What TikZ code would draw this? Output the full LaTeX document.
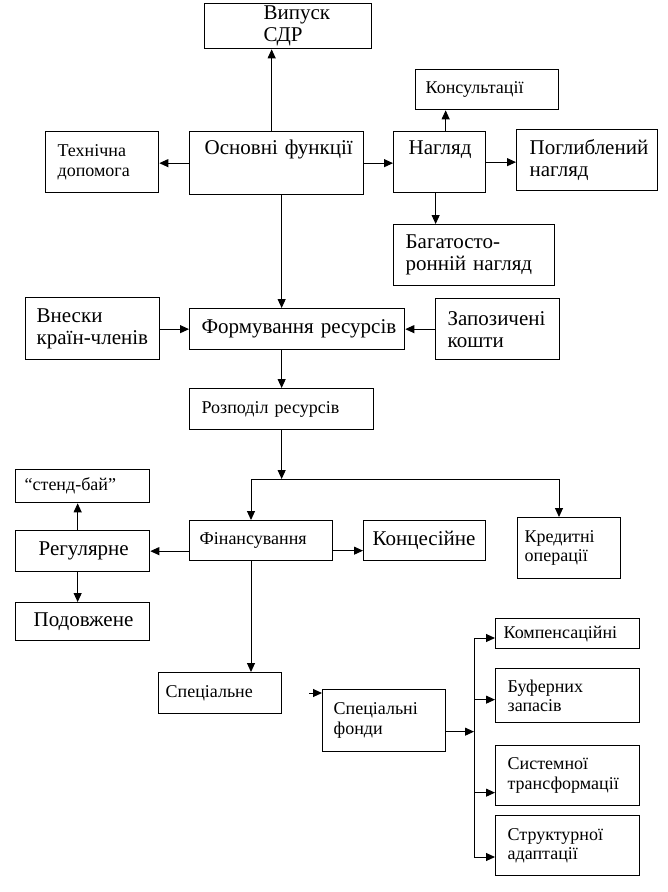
\documentclass[tikz,border=0pt]{standalone}
\usepackage{fontspec}
\setmainfont{Liberation Serif}
\usepackage{tikz}
\usetikzlibrary{arrows.meta}

\begin{document}
\begin{tikzpicture}[x=1pt, y=-1pt, >={Triangle[length=9pt,width=8pt]},
  box/.style={rectangle, draw=black, line width=1.3pt, anchor=north west, align=left, inner ysep=0pt},
  big/.style={font=\fontsize{21}{22}\selectfont},
  small/.style={font=\fontsize{18}{19.5}\selectfont},
  link/.style={line width=1pt}]
\useasboundingbox (0,0) rectangle (667,892);
\node (vyp) [box, big, minimum width=167pt, minimum height=45pt, inner xsep=59pt, text width=49pt] at (204,3) {Випуск\\СДР};
\node (kons) [box, small, minimum width=143pt, minimum height=40pt, inner xsep=10pt, text width=123pt] at (415,69) {Консультації};
\node (tech) [box, small, minimum width=113pt, minimum height=61pt, inner xsep=12pt, text width=89pt] at (45,131) {Технічна\\допомога};
\node (osn) [box, big, minimum width=174pt, minimum height=63pt, inner xsep=15pt, text width=144pt, text height=23pt, text depth=40pt] at (189,131) {Основні~функції};
\node (nag) [box, big, minimum width=92pt, minimum height=61pt, inner xsep=15pt, text width=62pt, text height=23pt, text depth=38pt] at (393,131) {Нагляд};
\node (pogl) [box, big, minimum width=141pt, minimum height=61pt, inner xsep=13pt, text width=115pt] at (516,129) {Поглиблений\\нагляд};
\node (bag) [box, big, minimum width=161pt, minimum height=61pt, inner xsep=12pt, text width=137pt] at (393,224) {Багатосто-\\ронній~нагляд};
\node (vnes) [box, big, minimum width=134pt, minimum height=62pt, inner xsep=11pt, text width=112pt] at (25,297) {Внески\\країн-членів};
\node (form) [box, big, minimum width=215pt, minimum height=41pt, inner xsep=12pt, text width=191pt] at (189,308) {Формування~ресурсів};
\node (zap) [box, big, minimum width=124pt, minimum height=61pt, inner xsep=12pt, text width=100pt] at (435,298) {Запозичені\\кошти};
\node (rozp) [box, small, minimum width=184pt, minimum height=41pt, inner xsep=12pt, text width=160pt] at (189,388) {Розподіл~ресурсів};
\node (stend) [box, small, minimum width=134pt, minimum height=33pt, inner xsep=9pt, text width=116pt] at (15,469) {“стенд-бай”};
\node (reg) [box, big, minimum width=134pt, minimum height=41pt, inner xsep=23pt, text width=88pt] at (15,530) {Регулярне};
\node (podo) [box, big, minimum width=134pt, minimum height=38pt, inner xsep=18pt, text width=98pt] at (15,602) {Подовжене};
\node (fin) [box, small, minimum width=143pt, minimum height=40pt, inner xsep=10pt, text width=123pt] at (189,520) {Фінансування};
\node (konc) [box, big, minimum width=122pt, minimum height=40pt, inner xsep=9pt, text width=104pt] at (363,520) {Концесійне};
\node (kred) [box, small, minimum width=103pt, minimum height=61pt, inner xsep=7pt, text width=89pt] at (517,517) {Кредитні\\операції};
\node (spec) [box, small, minimum width=123pt, minimum height=41pt, inner xsep=7pt, text width=109pt] at (158,672) {Спеціальне};
\node (specf) [box, small, minimum width=123pt, minimum height=62pt, inner xsep=11pt, text width=101pt] at (322,689) {Спеціальні\\фонди};
\node (komp) [box, small, minimum width=144pt, minimum height=30pt, inner xsep=8pt, text width=128pt] at (495,618) {Компенсаційні};
\node (buf) [box, small, minimum width=144pt, minimum height=54pt, inner xsep=12pt, text width=120pt] at (495,668) {Буферних\\запасів};
\node (sys) [box, small, minimum width=144pt, minimum height=60pt, inner xsep=12pt, text width=120pt] at (495,745) {Системної\\трансформації};
\node (struc) [box, small, minimum width=144pt, minimum height=60pt, inner xsep=12pt, text width=120pt] at (495,815) {Структурної\\адаптації};

\coordinate (splitL) at (251,479);
\coordinate (splitR) at (559,479);
\coordinate (stub) at (309,693);
\coordinate (busT) at (474,638);
\coordinate (busB) at (474,857);

\draw[->, link] ([xshift=-5pt]osn.north) -- ([xshift=-5pt]osn.north |- vyp.south);
\draw[->, link] (osn.west) -- (osn.west -| tech.east);
\draw[->, link] (osn.east) -- (osn.east -| nag.west);
\draw[->, link] (nag.east) -- (nag.east -| pogl.west);
\draw[->, link] ([xshift=6pt]nag.north) -- ([xshift=6pt]nag.north |- kons.south);
\draw[->, link] ([xshift=-4pt]nag.south) -- ([xshift=-4pt]nag.south |- bag.north);
\draw[->, link] ([xshift=5pt]osn.south) -- ([xshift=5pt]osn.south |- form.north);
\draw[->, link] (vnes.east |- form.west) -- (form.west);
\draw[->, link] (zap.west |- form.east) -- (form.east);
\draw[->, link] (rozp.north |- form.south) -- (rozp.north);
\draw[->, link] (rozp.south) -- (rozp.south |- splitL);
\draw[link] (splitL) -- (splitR);
\draw[->, link] (splitL) -- (splitL |- fin.north);
\draw[->, link] (splitR) -- (splitR |- kred.north);
\draw[->, link] (fin.west |- reg.east) -- (reg.east);
\draw[->, link] ([yshift=-10pt]fin.east) -- ([yshift=-10pt]fin.east -| konc.west);
\draw[->, link] ([xshift=-5pt]reg.north) -- ([xshift=-5pt]reg.north |- stend.south);
\draw[->, link] ([xshift=-5pt]reg.south) -- ([xshift=-5pt]reg.south |- podo.north);
\draw[->, link] (splitL |- fin.south) -- (splitL |- spec.north);
\draw[->, link] (stub) -- (stub -| specf.west);
\draw[->, link] ([yshift=-11pt]specf.east) -- ([yshift=-11pt]specf.east -| busT);
\draw[link] (busT) -- (busB);
\draw[->, link] (busT) -- (busT -| komp.west);
\draw[->, link] ([yshift=-4pt]buf.west -| busT) -- ([yshift=-4pt]buf.west);
\draw[->, link] ([yshift=-17pt]sys.west -| busT) -- ([yshift=-17pt]sys.west);
\draw[->, link] (busB) -- (busB -| struc.west);
\end{tikzpicture}
\end{document}
